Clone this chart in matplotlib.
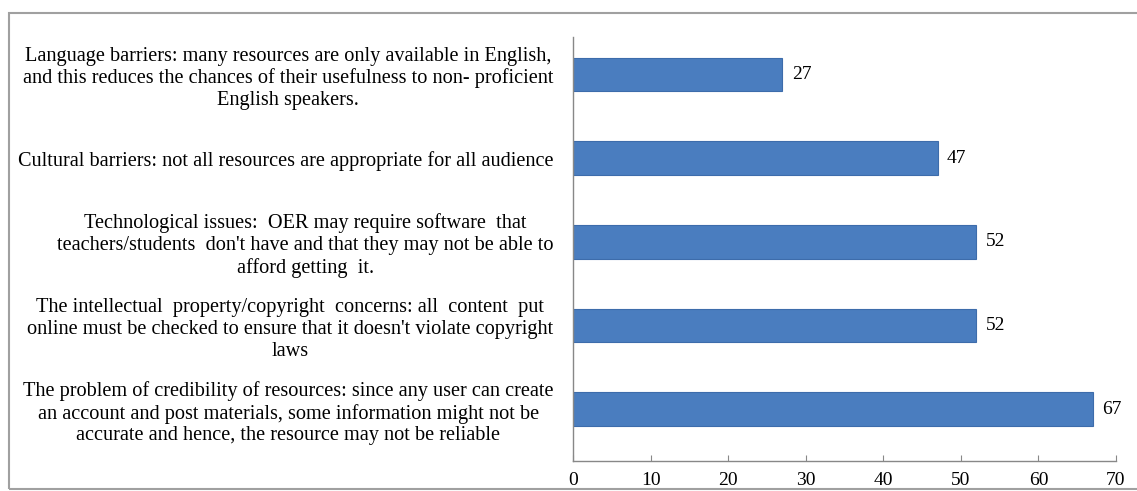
import matplotlib.pyplot as plt
from matplotlib.patches import Rectangle

plt.rcParams['font.family'] = ['Liberation Serif', 'DejaVu Serif']

barriers = [
    "Language barriers: many resources are only available in English,\n"
    "and this reduces the chances of their usefulness to non- proficient\n"
    "English speakers.",
    "Cultural barriers: not all resources are appropriate for all audience",
    "Technological issues:  OER may require software  that\n"
    "teachers/students  don't have and that they may not be able to\n"
    "afford getting  it.",
    "The intellectual  property/copyright  concerns: all  content  put\n"
    "online must be checked to ensure that it doesn't violate copyright\n"
    "laws",
    "The problem of credibility of resources: since any user can create\n"
    "an account and post materials, some information might not be\n"
    "accurate and hence, the resource may not be reliable",
]
counts = [27, 47, 52, 52, 67]
xticks = [0, 10, 20, 30, 40, 50, 60, 70]

fig = plt.figure(figsize=(11.37, 4.91), dpi=100)
ax = fig.add_axes([0.504, 0.061, 0.4775, 0.864])

pos = list(range(len(barriers)))
bars = ax.barh(pos, counts, height=0.4, color='#4a7dbf', edgecolor='#3d6cab', linewidth=0.8)
for b, v in zip(bars, counts):
    ax.text(b.get_width() + 1.2, b.get_y() + b.get_height() / 2, str(v),
            va='center', ha='left', fontsize=14)

ax.set_ylim(4.62, -0.45)
ax.set_xlim(0, 70)
ax.set_xticks(xticks)
ax.set_xticklabels([str(t) for t in xticks], fontsize=14)
ax.set_yticks(pos)
ax.set_yticklabels(barriers, fontsize=14.6, multialignment='center')
for lab in ax.get_yticklabels():
    lab.set_linespacing(1.2)
ax.tick_params(axis='y', length=0, pad=14)
ax.tick_params(axis='x', direction='in', length=4, color='#888888', pad=8)

for s in ['top', 'right']:
    ax.spines[s].set_visible(False)
for s in ['left', 'bottom']:
    ax.spines[s].set_color('#888888')
    ax.spines[s].set_linewidth(1)

# grey frame around the chart area
fig.patches.append(Rectangle((9 / 1137, 2 / 491), 1.2, 1 - 15 / 491,
                             transform=fig.transFigure, fill=False,
                             edgecolor='#a0a0a0', linewidth=1.5))

fig.savefig('out.png', dpi=100)
